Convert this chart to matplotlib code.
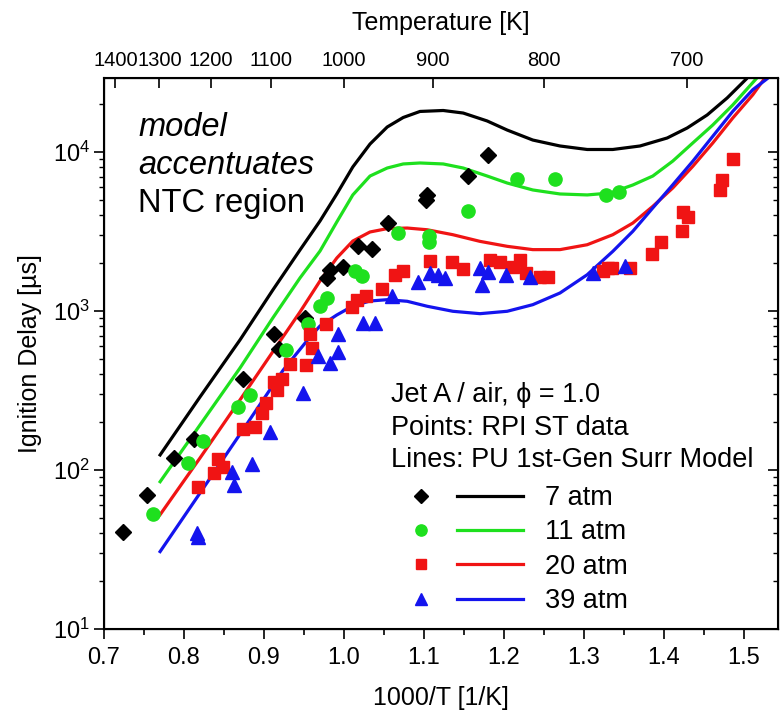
import numpy as np
import matplotlib
matplotlib.use('Agg')
import matplotlib.pyplot as plt
from matplotlib.lines import Line2D
from matplotlib.legend_handler import HandlerTuple
from matplotlib.ticker import NullFormatter, MultipleLocator

plt.rcParams['font.family'] = ['Liberation Sans', 'DejaVu Sans']
plt.rcParams['mathtext.fontset'] = 'custom'
plt.rcParams['mathtext.rm'] = 'Liberation Sans'
plt.rcParams['mathtext.it'] = 'Liberation Sans:italic'

# ---------------- data ----------------
pressures = ['7 atm', '11 atm', '20 atm', '39 atm']

# model lines (1000/T, ignition delay in microseconds)
line7_x = [0.769, 0.820, 0.870, 0.911, 0.945, 0.970, 0.991, 1.011, 1.0325, 1.054, 1.074, 1.095,
           1.124, 1.149, 1.179, 1.204, 1.236, 1.270, 1.304, 1.336, 1.370, 1.404, 1.429, 1.454,
           1.479, 1.504]
line7_y = [122, 288, 658, 1355, 2421, 3681, 5445, 8054, 11220, 14360, 16480, 17990,
           18240, 17580, 15670, 13740, 11890, 10910, 10370, 10370, 10910, 12250, 14160, 17100,
           21880, 29170]

line11_x = [0.769, 0.820, 0.870, 0.911, 0.945, 0.970, 0.991, 1.011, 1.0325, 1.054, 1.074, 1.095,
            1.124, 1.149, 1.179, 1.204, 1.236, 1.270, 1.304, 1.3325, 1.361, 1.386, 1.411, 1.436,
            1.461, 1.486, 1.516]
line11_y = [82.8, 192, 438, 904, 1614, 2382, 3630, 5370, 7060, 7930, 8410, 8530,
            8410, 7930, 7060, 6380, 5770, 5445, 5370, 5520, 6200, 7060, 8770, 11400,
            14790, 19770, 29170]

line20_x = [0.769, 0.820, 0.870, 0.904, 0.945, 0.970, 0.991, 1.011, 1.0325, 1.054, 1.079, 1.104,
            1.136, 1.170, 1.204, 1.236, 1.270, 1.304, 1.336, 1.361, 1.386, 1.411, 1.436, 1.461,
            1.486, 1.511, 1.526]
line20_y = [51.4, 119, 276, 492, 986, 1545, 2154, 2754, 3140, 3297, 3325, 3243,
            3019, 2741, 2551, 2432, 2432, 2611, 3019, 3573, 4550, 5943, 8128, 11400,
            16370, 22900, 29170]

line39_x = [0.769, 0.820, 0.870, 0.924, 0.9575, 0.970, 0.991, 1.011, 1.0325, 1.054, 1.079, 1.104,
            1.136, 1.170, 1.204, 1.236, 1.270, 1.304, 1.336, 1.361, 1.386, 1.411, 1.436, 1.461,
            1.486, 1.511, 1.530]
line39_y = [30.1, 71.6, 168, 425, 686, 805, 944, 1075, 1156, 1178, 1151, 1071,
            996, 962, 996, 1096, 1298, 1691, 2372, 3170, 4450, 6222, 8750, 12560,
            18030, 24660, 29170]

# shock tube data points
pts7_x = [0.724, 0.754, 0.787, 0.813, 0.874, 0.912, 0.919, 0.951, 0.979, 0.9825, 0.999, 1.018,
          1.035, 1.055, 1.103, 1.104, 1.155, 1.180]
pts7_y = [41, 70, 119, 156, 372, 717, 577, 900, 1607, 1811, 1883, 2565,
          2455, 3590, 5010, 5380, 7060, 9570]

pts11_x = [0.761, 0.805, 0.824, 0.868, 0.882, 0.928, 0.955, 0.970, 0.979, 1.014, 1.023, 1.067,
           1.106, 1.106, 1.155, 1.216, 1.264, 1.3275, 1.344]
pts11_y = [52.6, 111, 153, 248, 297, 569, 828, 1075, 1202, 1786, 1660, 3083,
           2965, 2717, 4275, 6760, 6760, 5370, 5600]

pts20_x = [0.818, 0.837, 0.843, 0.849, 0.874, 0.889, 0.897, 0.903, 0.916, 0.912, 0.922, 0.933,
           0.9525, 0.960, 0.9575, 0.9775, 1.0096, 1.016, 1.028, 1.047, 1.064, 1.074, 1.1075, 1.135,
           1.149, 1.1825, 1.195, 1.2116, 1.220, 1.228, 1.245, 1.255, 1.324, 1.330, 1.335, 1.3575,
           1.3846, 1.396, 1.422, 1.424, 1.430, 1.470, 1.472, 1.486]
pts20_y = [78.5, 95.3, 117, 105, 180, 187, 228, 263, 319, 359, 372, 464,
           457, 585, 717, 828, 1055, 1173, 1243, 1375, 1683, 1786, 2061, 2042,
           1828, 2094, 2042, 1900, 2094, 1727, 1630, 1630, 1786, 1857, 1857, 1864,
           2280, 2730, 3200, 4217, 3880, 5770, 6670, 9000]

pts39_x = [0.816, 0.817, 0.860, 0.862, 0.885, 0.907, 0.949, 0.968, 0.982, 0.993, 0.993, 1.024,
           1.039, 1.060, 1.093, 1.1075, 1.117, 1.126, 1.170, 1.180, 1.172, 1.203, 1.2325, 1.3116,
           1.351]
pts39_y = [40, 37.9, 97.5, 80.5, 109, 174, 304, 521, 473, 552, 717, 837,
           837, 1234, 1511, 1727, 1683, 1607, 1857, 1765, 1459, 1683, 1644, 1727,
           1905]

top_temps = [1400, 1300, 1200, 1100, 1000, 900, 800, 700]
bottom_ticks = [0.7, 0.8, 0.9, 1.0, 1.1, 1.2, 1.3, 1.4, 1.5]

# ---------------- styles ----------------
colors = ['#000000', '#1ee01e', '#f01414', '#1414ee']
markers = ['D', 'o', 's', '^']
msizes = [8.5, 9.5, 8.5, 10.5]

lines = [(line7_x, line7_y), (line11_x, line11_y), (line20_x, line20_y), (line39_x, line39_y)]
points = [(pts7_x, pts7_y), (pts11_x, pts11_y), (pts20_x, pts20_y), (pts39_x, pts39_y)]

W, H = 780, 713
fig = plt.figure(figsize=(W / 100, H / 100), dpi=100)
ax = fig.add_axes([104 / W, 1 - 629 / H, 674 / W, 551 / H])

for (lx, ly), c in zip(lines, colors):
    ax.plot(lx, ly, color=c, lw=2.3, zorder=2, solid_capstyle='butt', solid_joinstyle='round')
for (px, py), c, m, s in zip(points, colors, markers, msizes):
    ax.plot(px, py, ls='none', marker=m, ms=s, color=c, mec=c, zorder=3)

ax.set_yscale('log')
ax.set_xlim(0.7, 1.5425)
ax.set_ylim(10, 29200)
ax.set_xticks(bottom_ticks)
ax.set_xticklabels([f'{t:.1f}' for t in bottom_ticks])
ax.xaxis.set_minor_locator(MultipleLocator(0.05))
ax.tick_params(axis='x', which='major', direction='out', length=7, width=1.2, labelsize=17, pad=6,
               top=False)
ax.tick_params(axis='x', which='minor', direction='out', length=4, width=1.2, top=False)
ax.tick_params(axis='y', which='major', direction='out', length=7, width=1.2, labelsize=17, pad=3,
               right=False)
ax.tick_params(axis='y', which='minor', direction='out', length=3.5, width=1.0, right=False)
for sp in ax.spines.values():
    sp.set_linewidth(1.5)

ax.set_xlabel('1000/T [1/K]', fontsize=18, labelpad=12)
ax.set_ylabel('Ignition Delay [µs]', fontsize=18, labelpad=8)

# top temperature axis
axt = ax.twiny()
axt.set_xlim(ax.get_xlim())
axt.set_xticks([1000.0 / t for t in top_temps])
axt.set_xticklabels([str(t) for t in top_temps])
axt.tick_params(axis='x', direction='in', length=7, width=1.2, labelsize=14.5, pad=6)
axt.set_xlabel('Temperature [K]', fontsize=18, labelpad=15)

# right axis ticks (inward, no labels)
axr = ax.twinx()
axr.set_yscale('log')
axr.set_ylim(ax.get_ylim())
axr.tick_params(axis='y', which='major', direction='in', length=7, width=1.2, labelright=False)
axr.tick_params(axis='y', which='minor', direction='in', length=3.5, width=1.0, labelright=False)
axr.yaxis.set_minor_formatter(NullFormatter())

# annotation
ax.text(138 / W, 1 - 127 / H, 'model', transform=fig.transFigure, fontsize=23.5,
        style='italic', va='center', ha='left')
ax.text(138 / W, 1 - 165 / H, 'accentuates', transform=fig.transFigure, fontsize=23.5,
        style='italic', va='center', ha='left')
ax.text(138 / W, 1 - 203 / H, 'NTC region', transform=fig.transFigure, fontsize=23.5,
        va='center', ha='left')

# legend header
for txt, yy in [('Jet A / air, ϕ = 1.0', 395), ('Points: RPI ST data', 428),
                ('Lines: PU 1st-Gen Surr Model', 460)]:
    fig.text(391 / W, 1 - yy / H, txt, fontsize=19.5, va='center', ha='left')

handles = []
for c, m, s in zip(colors, markers, msizes):
    handles.append((Line2D([], [], ls='none', marker=m, ms=s * 0.85, color=c),
                    Line2D([], [], color=c, lw=2.3)))
leg = fig.legend(handles, pressures, handler_map={tuple: HandlerTuple(ndivide=None, pad=0.1)},
                 loc='upper left', bbox_to_anchor=(388 / W, 1 - 485 / H), frameon=False,
                 fontsize=19.5, handlelength=5.0, handletextpad=0.8, borderpad=0,
                 labelspacing=0.31, borderaxespad=0)

fig.savefig('out.png', dpi=100)
